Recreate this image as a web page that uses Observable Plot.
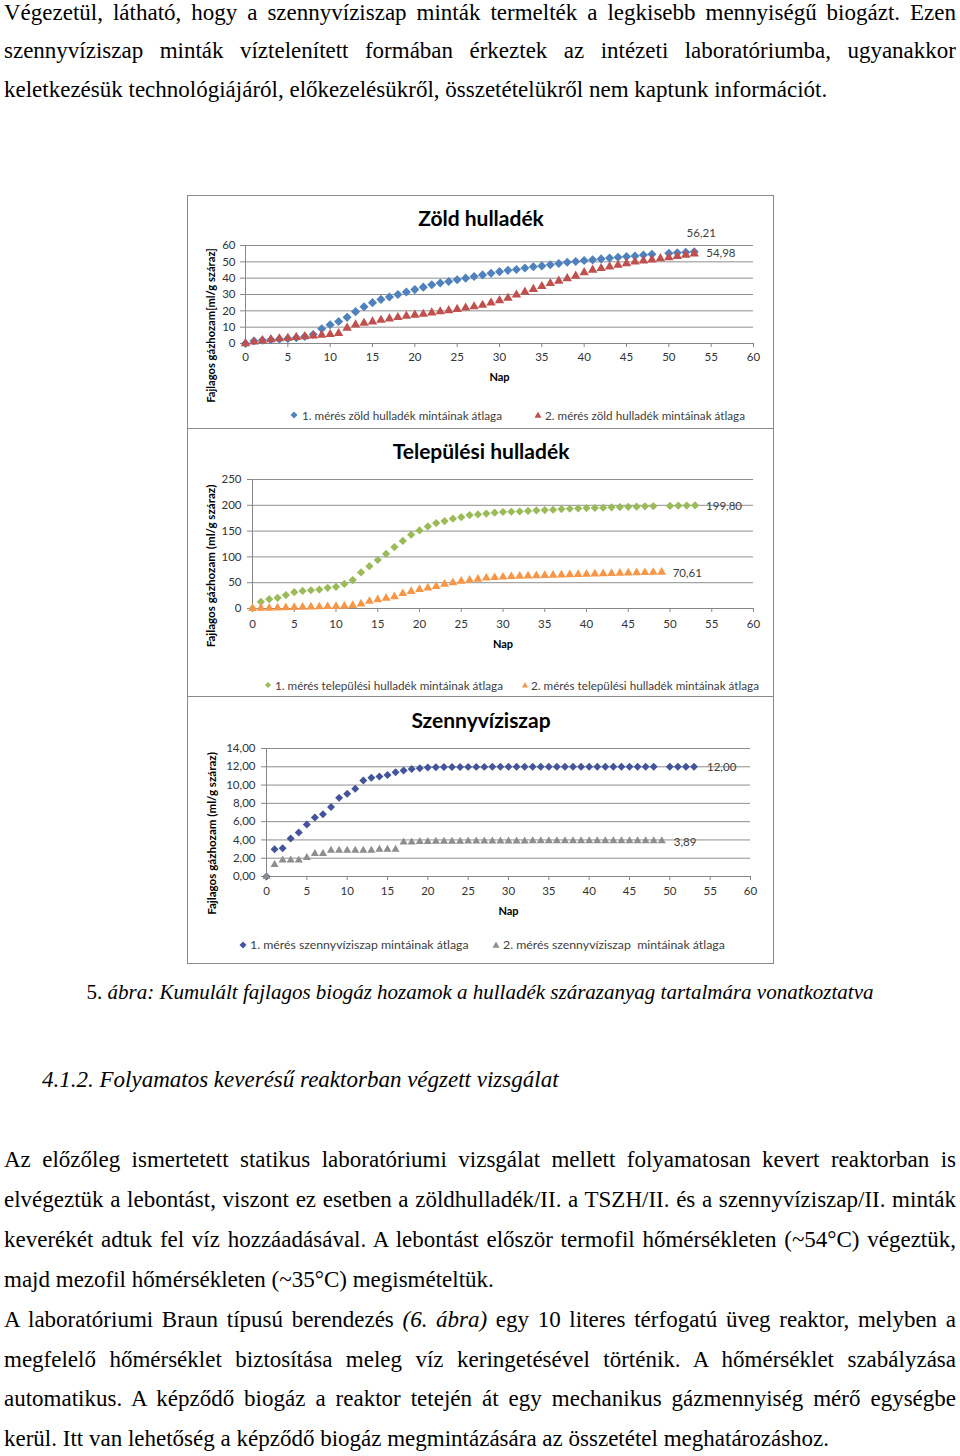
<!DOCTYPE html>
<html>
<head>
<meta charset="utf-8">
<script src="https://cdn.jsdelivr.net/npm/d3@7"></script>
<script src="https://cdn.jsdelivr.net/npm/@observablehq/plot@0.6"></script>
<style>
  html, body { margin: 0; padding: 0; background: #fff; }
  body { position: relative; width: 960px; height: 1456px; overflow: hidden; }
  .ln { position: absolute; left: 4px; width: 952px; font-family: "Liberation Serif", "Times New Roman", serif;
        font-size: 23px; line-height: 18px; white-space: nowrap; color: #000; }
  .panel { position: absolute; left: 187px; width: 587px; border: 1px solid #8a8a8a; box-sizing: border-box; background: #fff; }
  .ctitle { position: absolute; left: 188px; width: 586px; text-align: center; font-family: Lato, "Open Sans", sans-serif;
            font-weight: bold; font-size: 21px; line-height: 24px; color: #000; }
  .chart { position: absolute; left: 188px; }
  .leg { position: absolute; font-family: Lato, "Open Sans", sans-serif; font-size: 11.7px; line-height: 14px; color: #404040; white-space: pre; }
  .mk { position: absolute; width: 10px; height: 10px; }
  .mk svg { display: block; }
</style>
</head>
<body>
<script>
// ---------------- DATA ----------------
const xTicks = [0, 5, 10, 15, 20, 25, 30, 35, 40, 45, 50, 55, 60];

// Zöld hulladék
const zoldDays1 = [0,1,2,3,4,5,6,7,8,9,10,11,12,13,14,15,16,17,18,19,20,21,22,23,24,25,26,27,28,29,30,31,32,33,34,35,36,37,38,39,40,41,42,43,44,45,46,47,48,50,51,52,53];
const zoldMeres1 = [0,1.5,2,2.3,2.6,3,3.5,4.3,5.5,9,11.5,13.5,16,19.5,22.5,25,27,28.5,30,31.5,33,34.5,36,37,38,39,40,41,42,43,44,44.8,45.3,46.2,47,47.5,48.2,49,49.7,50.2,50.8,51.2,51.8,52.3,52.8,53.2,53.6,54.2,54.6,55.2,55.6,55.9,56.21];
const zoldDays2 = [0,1,2,3,4,5,6,7,8,9,10,11,12,13,14,15,16,17,18,19,20,21,22,23,24,25,26,27,28,29,30,31,32,33,34,35,36,37,38,39,40,41,42,43,44,45,46,47,48,49,50,51,52,53];
const zoldMeres2 = [0,1,1.8,2.5,3,3.3,3.8,4.3,4.8,5.2,5.6,6.2,9.5,11.5,12.5,13.3,14.3,15.2,16,16.8,17.5,18,18.8,19.5,20.2,21,21.8,22.6,23.5,25,26.3,27.8,29.8,31.5,33.2,35,36.8,38.3,39.8,41.3,43.5,45,46,47,48,49,50,50.7,51.3,52,52.6,53.4,54.2,54.98];
const zoldYTicks = [0, 10, 20, 30, 40, 50, 60];
const zoldLabels = ["56,21", "54,98"];

// Települési hulladék
const telepDays1 = [0,1,2,3,4,5,6,7,8,9,10,11,12,13,14,15,16,17,18,19,20,21,22,23,24,25,26,27,28,29,30,31,32,33,34,35,36,37,38,39,40,41,42,43,44,45,46,47,48,50,51,52,53];
const telepMeres1 = [0,13,18,20.6,26,31.6,34,35.4,36.7,40,42,47.7,55,70,82,94,106,119,131,143,151.4,159,165.6,169.5,174,177,181,182.3,184,185.6,187,187.5,188,189,190,190.7,191.4,192.6,193.3,194,194.6,195,195.3,196,196.5,197,197.4,198,198.3,198.8,199.2,199.5,199.8];
const telepDays2 = [0,1,2,3,4,5,6,7,8,9,10,11,12,13,14,15,16,17,18,19,20,21,22,23,24,25,26,27,28,29,30,31,32,33,34,35,36,37,38,39,40,41,42,43,44,45,46,47,48,49];
const telepMeres2 = [0,0.5,0.8,1,1.5,2,2.5,3,3.3,3.8,4,4.5,6,9,14,17,20,23,29,33,37,40,43,47,50,53,55,57,59,60,61,62,62.5,63,63.5,64,64.5,65,65.5,66,66.5,67,67.5,68,68.5,69,69.3,69.7,70.2,70.61];
const telepYTicks = [0, 50, 100, 150, 200, 250];
const telepLabels = ["199,80", "70,61"];

// Szennyvíziszap
const szennyDays1 = [0,1,2,3,4,5,6,7,8,9,10,11,12,13,14,15,16,17,18,19,20,21,22,23,24,25,26,27,28,29,30,31,32,33,34,35,36,37,38,39,40,41,42,43,44,45,46,47,48,50,51,52,53];
const szennyMeres1 = [0,2.98,3.1,4.15,4.8,5.7,6.44,6.8,7.6,8.6,9.05,9.6,10.5,10.8,10.95,11.1,11.4,11.6,11.75,11.85,11.93,11.96,11.97,11.98,11.98,11.99,11.99,11.99,12,12,12,12,12,12,12,12,12,12,12,12,12,12,12,12,12,12,12,12,12,12,12,12,12];
const szennyDays2 = [0,1,2,3,4,5,6,7,8,9,10,11,12,13,14,15,16,17,18,19,20,21,22,23,24,25,26,27,28,29,30,31,32,33,34,35,36,37,38,39,40,41,42,43,44,45,46,47,48,49];
const szennyMeres2 = [0,1.3,1.8,1.8,1.8,2.05,2.5,2.5,2.85,2.85,2.85,2.85,2.85,2.85,2.95,2.95,2.95,3.75,3.75,3.8,3.82,3.83,3.84,3.85,3.85,3.86,3.86,3.86,3.87,3.87,3.87,3.87,3.87,3.88,3.88,3.88,3.88,3.88,3.88,3.88,3.89,3.89,3.89,3.89,3.89,3.89,3.89,3.89,3.89,3.89];
const szennyYTicks = [0, 2, 4, 6, 8, 10, 12, 14];
const szennyLabels = ["12,00", "3,89"];

// ---------------- TEXT ----------------
const para1 = [
  "Végezetül, látható, hogy a szennyvíziszap minták termelték a legkisebb mennyiségű biogázt. Ezen",
  "szennyvíziszap minták víztelenített formában érkeztek az intézeti laboratóriumba, ugyanakkor",
  "keletkezésük technológiájáról, előkezelésükről, összetételükről nem kaptunk információt."
];
const para2 = [
  "Az előzőleg ismertetett statikus laboratóriumi vizsgálat mellett folyamatosan kevert reaktorban is",
  "elvégeztük a lebontást, viszont ez esetben a zöldhulladék/II. a TSZH/II. és a szennyvíziszap/II. minták",
  "keverékét adtuk fel víz hozzáadásával. A lebontást először termofil hőmérsékleten (~54°C) végeztük,",
  "majd mezofil hőmérsékleten (~35°C) megismételtük."
];
const para3 = [
  "A laboratóriumi Braun típusú berendezés <i>(6. ábra)</i> egy 10 literes térfogatú üveg reaktor, melyben a",
  "megfelelő hőmérséklet biztosítása meleg víz keringetésével történik. A hőmérséklet szabályzása",
  "automatikus. A képződő biogáz a reaktor tetején át egy mechanikus gázmennyiség mérő egységbe",
  "kerül. Itt van lehetőség a képződő biogáz megmintázására az összetétel meghatározáshoz."
];

const body = document.body;

function addLine(html, baseline, justify, extra) {
  const d = document.createElement("div");
  d.className = "ln";
  if (extra) Object.assign(d.style, extra);
  const fs = parseFloat((extra && extra.fontSize) || "23px");
  const lh = 18;
  const base = (lh - 1.107 * fs) / 2 + 0.891 * fs;
  d.style.top = (baseline - base) + "px";
  const s = document.createElement("span");
  s.innerHTML = html;
  d.appendChild(s);
  body.appendChild(d);
  if (justify) {
    const w = s.getBoundingClientRect().width;
    const n = (s.textContent.match(/ /g) || []).length;
    if (n > 0) s.style.wordSpacing = ((952 - w) / n) + "px";
  }
  return d;
}

[20.8, 59.2, 97.6].forEach((b, i) => addLine(para1[i], b, i < 2));
addLine('5. <i>ábra: Kumulált fajlagos biogáz hozamok a hulladék szárazanyag tartalmára vonatkoztatva</i>', 999, false,
  {left: "0px", width: "960px", textAlign: "center", fontSize: "21px"});
addLine("<i>4.1.2. Folyamatos keverésű reaktorban végzett vizsgálat</i>", 1088, false, {left: "42px"});
[1168, 1208, 1248, 1288].forEach((b, i) => addLine(para2[i], b, i < 3));
[1328, 1368, 1407, 1447].forEach((b, i) => addLine(para3[i], b, i < 3));

// ---------------- CHARTS ----------------
function mkPanel(top, h) {
  const p = document.createElement("div");
  p.className = "panel"; p.style.top = top + "px"; p.style.height = h + "px";
  body.appendChild(p);
}
function mkTitle(text, cy) {
  const t = document.createElement("div");
  t.className = "ctitle"; t.textContent = text; t.style.top = (cy - 12) + "px";
  body.appendChild(t);
}
function markerSvg(shape, color, size) {
  const ns = "http://www.w3.org/2000/svg";
  const svg = document.createElementNS(ns, "svg");
  svg.setAttribute("width", 10); svg.setAttribute("height", 10);
  const p = document.createElementNS(ns, "path");
  const h = size / 2;
  p.setAttribute("d", shape === "diamond"
    ? `M5,${5 - h}L${5 + h},5L5,${5 + h}L${5 - h},5Z`
    : `M5,${5 - h}L${5 + h},${5 + h * 0.8}L${5 - h},${5 + h * 0.8}Z`);
  p.setAttribute("fill", color);
  svg.appendChild(p);
  return svg;
}
function mkLegend(cy, items, fontSize) {
  for (const it of items) {
    const m = document.createElement("div");
    m.className = "mk"; m.style.left = (it.mx - 5) + "px"; m.style.top = (cy - 5) + "px";
    m.appendChild(markerSvg(it.shape, it.color, it.size));
    body.appendChild(m);
    const t = document.createElement("div");
    t.className = "leg"; t.textContent = it.text; t.style.left = it.tx + "px"; t.style.top = (cy - 7) + "px";
    if (fontSize) t.style.fontSize = fontSize + "px";
    body.appendChild(t);
  }
}

function mkChart(cfg) {
  const fmt = cfg.fmt || (d => String(d));
  const n1 = cfg.days1.length - 1, n2 = cfg.days2.length - 1;
  const svg = Plot.plot({
    width: 586, height: cfg.height,
    marginTop: cfg.mt, marginBottom: cfg.mb, marginLeft: cfg.ml, marginRight: cfg.mr,
    style: {fontFamily: "Lato, 'Open Sans', sans-serif", fontSize: "11.5px", color: "#333", background: "transparent", overflow: "visible"},
    x: {domain: [0, 60]},
    y: {domain: cfg.ydomain},
    marks: [
      Plot.gridY(cfg.yticks, {stroke: "#8f8f8f", strokeOpacity: 1}),
      Plot.ruleX([0], {stroke: "#868686"}),
      Plot.ruleY([0], {stroke: "#868686"}),
      Plot.axisX(xTicks, {tickSize: 4, tickPadding: cfg.xpad, stroke: "#868686", fill: "#333", label: null, fontSize: 11.5}),
      Plot.axisY(cfg.yticks, {tickSize: 5, tickPadding: cfg.ypad, stroke: "#868686", fill: "#333", tickFormat: fmt, label: null, fontSize: 11.5}),
      Plot.text(["Nap"], {text: d => d, frameAnchor: "bottom", lineAnchor: "middle", textAnchor: "middle", dy: cfg.napDy, fontWeight: "bold", fontSize: 11, fill: "#000"}),
      Plot.text([cfg.ylabel], {text: d => d, frameAnchor: "left", textAnchor: "middle", lineAnchor: "middle", rotate: -90, dx: cfg.ylDx, dy: cfg.ylDy, fontWeight: "bold", fontSize: cfg.ylSize, fill: "#000"}),
      Plot.dot(cfg.v1, {x: cfg.days1, y: cfg.v1, symbol: "diamond2", fill: cfg.c1, r: cfg.r1}),
      Plot.dot(cfg.v2, {x: cfg.days2, y: cfg.v2, symbol: "triangle", fill: cfg.c2, r: cfg.r2}),
      Plot.text([cfg.labels[0]], {x: [cfg.days1[n1]], y: [cfg.v1[n1]], text: d => d, textAnchor: cfg.l1Anchor, dx: cfg.l1dx, dy: cfg.l1dy, fill: "#404040", fontSize: 11.5}),
      Plot.text([cfg.labels[1]], {x: [cfg.days2[n2]], y: [cfg.v2[n2]], text: d => d, textAnchor: "start", dx: cfg.l2dx, dy: cfg.l2dy, fill: "#404040", fontSize: 11.5})
    ]
  });
  const wrap = document.createElement("div");
  wrap.className = "chart"; wrap.style.top = cfg.top + "px";
  wrap.appendChild(svg);
  body.appendChild(wrap);
}

// Chart 1: Zöld hulladék
mkPanel(195, 234);
mkTitle("Zöld hulladék", 218);
mkChart({top: 235, height: 150, mt: 10, mb: 42, ml: 57, mr: 21, ydomain: [0, 60], yticks: zoldYTicks,
  xpad: 5, ypad: 5, napDy: 34, ylabel: "Fajlagos gázhozam[ml/g száraz]", ylDx: -34, ylDy: 31, ylSize: 11.2,
  days1: zoldDays1, v1: zoldMeres1, days2: zoldDays2, v2: zoldMeres2, c1: "#4F81BD", c2: "#C0504D", r1: 4.1, r2: 3.5,
  labels: zoldLabels, l1Anchor: "middle", l1dx: 7, l1dy: -18, l2dx: 12, l2dy: 0});
mkLegend(415, [
  {mx: 294, tx: 302, shape: "diamond", color: "#4F81BD", size: 7, text: "1. mérés zöld hulladék mintáinak átlaga"},
  {mx: 538, tx: 545, shape: "triangle", color: "#C0504D", size: 7, text: "2. mérés zöld hulladék mintáinak átlaga"}
]);

// Chart 2: Települési hulladék
mkPanel(428, 269);
mkTitle("Települési hulladék", 451);
mkChart({top: 469, height: 185, mt: 10, mb: 46, ml: 64, mr: 21, ydomain: [0, 250], yticks: telepYTicks,
  xpad: 7, ypad: 6, napDy: 36, ylabel: "Fajlagos gázhozam (ml/g száraz)", ylDx: -41, ylDy: 22, ylSize: 11.6,
  days1: telepDays1, v1: telepMeres1, days2: telepDays2, v2: telepMeres2, c1: "#9BBB59", c2: "#F79646", r1: 3.7, r2: 3.3,
  labels: telepLabels, l1Anchor: "start", l1dx: 11, l1dy: 1, l2dx: 11, l2dy: 1});
mkLegend(685, [
  {mx: 268, tx: 275, shape: "diamond", color: "#9BBB59", size: 6, text: "1. mérés települési hulladék mintáinak átlaga"},
  {mx: 525, tx: 531, shape: "triangle", color: "#F79646", size: 6, text: "2. mérés települési hulladék mintáinak átlaga"}
]);

// Chart 3: Szennyvíziszap
mkPanel(696, 268);
mkTitle("Szennyvíziszap", 720);
mkChart({top: 738, height: 180, mt: 10, mb: 42, ml: 78, mr: 24, ydomain: [0, 14], yticks: szennyYTicks,
  fmt: d => d.toFixed(2).replace(".", ","),
  xpad: 6, ypad: 6, napDy: 35, ylabel: "Fajlagos gázhozam (ml/g száraz)", ylDx: -54, ylDy: 21, ylSize: 11.6,
  days1: szennyDays1, v1: szennyMeres1, days2: szennyDays2, v2: szennyMeres2, c1: "#44549A", c2: "#8E8E8E", r1: 3.6, r2: 3.0,
  labels: szennyLabels, l1Anchor: "start", l1dx: 13, l1dy: 1, l2dx: 12, l2dy: 1});
mkLegend(945, [
  {mx: 243, tx: 250, shape: "diamond", color: "#44549A", size: 7, text: "1. mérés szennyvíziszap mintáinak átlaga"},
  {mx: 496, tx: 503, shape: "triangle", color: "#8E8E8E", size: 7, text: "2. mérés szennyvíziszap  mintáinak átlaga"}
], 12.3);
</script>
</body>
</html>
